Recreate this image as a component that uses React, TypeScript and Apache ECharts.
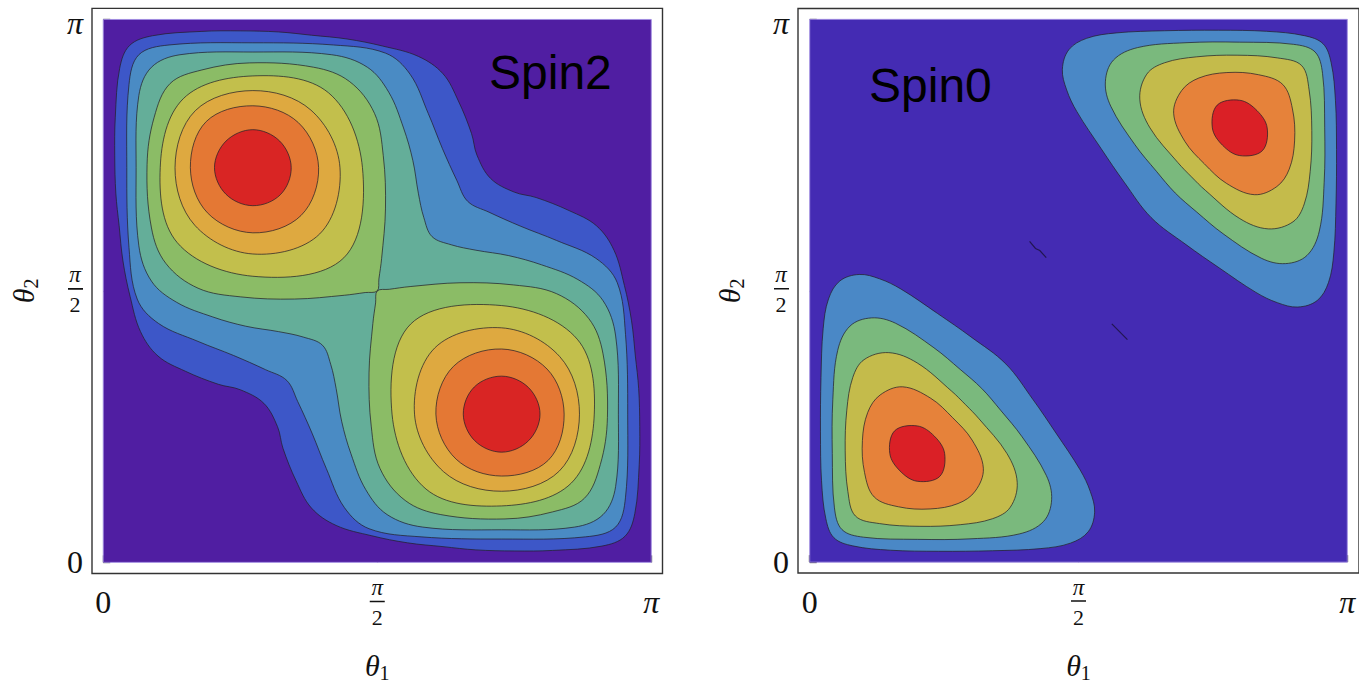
import React, { useEffect, useRef } from "react";
import * as echarts from "echarts";

type Pt = [number, number];

const SERIF = "'Liberation Serif', 'DejaVu Serif', serif";
const SANS = "'Liberation Sans', Arial, 'DejaVu Sans', sans-serif";

// axis ticks, in units of π
const tickValues = [0, 0.5, 1];

// colours
const spin2Colors = ["#501EA2", "#3D57C8", "#4A8BC4", "#64AE99", "#8BBC66", "#C2BF4C", "#DEA940", "#E47834", "#D92524"];
const spin0Colors = ["#442BB3", "#4A88C6", "#7AB97D", "#C4BB4B", "#E6823A", "#DA2026"];

// ---------- Spin2 contours (θ1/π, θ2/π) ----------
const spin2L1: Pt[] = [[0.048,0.952],[0.09,0.97],[0.18,0.978],[0.25,0.979],[0.32,0.977],[0.38,0.971],[0.445,0.964],[0.51,0.951],[0.575,0.932],[0.62,0.9],[0.648,0.85],[0.672,0.79],[0.682,0.75],[0.707,0.707],[0.75,0.682],[0.79,0.672],[0.85,0.648],[0.9,0.62],[0.932,0.575],[0.951,0.51],[0.964,0.445],[0.971,0.38],[0.977,0.32],[0.979,0.25],[0.978,0.18],[0.97,0.09],[0.952,0.048],[0.91,0.03],[0.82,0.022],[0.75,0.021],[0.68,0.023],[0.62,0.029],[0.555,0.036],[0.49,0.049],[0.425,0.068],[0.38,0.1],[0.352,0.15],[0.328,0.21],[0.318,0.25],[0.293,0.293],[0.25,0.318],[0.21,0.328],[0.15,0.352],[0.1,0.38],[0.068,0.425],[0.049,0.49],[0.036,0.555],[0.029,0.62],[0.023,0.68],[0.021,0.75],[0.022,0.82],[0.03,0.91]];
const spin2L2: Pt[] = [[0.065,0.935],[0.12,0.953],[0.273,0.957],[0.42,0.953],[0.515,0.938],[0.56,0.899],[0.593,0.827],[0.619,0.762],[0.645,0.704],[0.665,0.665],[0.704,0.645],[0.762,0.619],[0.827,0.593],[0.899,0.56],[0.938,0.515],[0.953,0.42],[0.957,0.273],[0.953,0.12],[0.935,0.065],[0.88,0.047],[0.727,0.043],[0.58,0.047],[0.485,0.062],[0.44,0.101],[0.407,0.173],[0.381,0.238],[0.355,0.296],[0.335,0.335],[0.296,0.355],[0.238,0.381],[0.173,0.407],[0.101,0.44],[0.062,0.485],[0.047,0.58],[0.043,0.727],[0.047,0.88]];
const spin2L3: Pt[] = [[0.088,0.912],[0.14,0.935],[0.273,0.94],[0.417,0.935],[0.482,0.912],[0.521,0.866],[0.548,0.8],[0.565,0.74],[0.575,0.68],[0.585,0.635],[0.6,0.6],[0.635,0.585],[0.68,0.575],[0.74,0.565],[0.8,0.548],[0.866,0.521],[0.912,0.482],[0.935,0.417],[0.94,0.273],[0.935,0.14],[0.912,0.088],[0.86,0.065],[0.727,0.06],[0.583,0.065],[0.518,0.088],[0.479,0.134],[0.452,0.2],[0.435,0.26],[0.425,0.32],[0.415,0.365],[0.4,0.4],[0.365,0.415],[0.32,0.425],[0.26,0.435],[0.2,0.452],[0.134,0.479],[0.088,0.518],[0.065,0.583],[0.06,0.727],[0.065,0.86]];
const spin2L4a: Pt[] = [[0.5,0.5],[0.503,0.522],[0.508,0.56],[0.515,0.651],[0.511,0.749],[0.495,0.827],[0.449,0.886],[0.384,0.912],[0.267,0.92],[0.18,0.907],[0.122,0.882],[0.093,0.82],[0.08,0.733],[0.088,0.616],[0.114,0.551],[0.173,0.505],[0.251,0.489],[0.349,0.485],[0.44,0.492],[0.478,0.497]];
const spin2L4b: Pt[] = [[0.5,0.5],[0.497,0.478],[0.492,0.44],[0.485,0.349],[0.489,0.251],[0.505,0.173],[0.551,0.114],[0.616,0.088],[0.733,0.08],[0.82,0.093],[0.878,0.118],[0.907,0.18],[0.92,0.267],[0.912,0.384],[0.886,0.449],[0.827,0.495],[0.749,0.511],[0.651,0.515],[0.56,0.508],[0.522,0.503]];
const spin2L5a: Pt[] = [[0.473,0.727],[0.411,0.865],[0.273,0.896],[0.146,0.854],[0.104,0.727],[0.135,0.589],[0.273,0.527],[0.439,0.561]];
const spin2L5b: Pt[] = [[0.527,0.273],[0.589,0.135],[0.727,0.104],[0.854,0.146],[0.896,0.273],[0.865,0.411],[0.727,0.473],[0.561,0.439]];
const spin2L6a: Pt[] = [[0.432,0.727],[0.379,0.833],[0.273,0.869],[0.168,0.832],[0.131,0.727],[0.167,0.621],[0.273,0.568],[0.395,0.605]];
const spin2L6b: Pt[] = [[0.568,0.273],[0.621,0.167],[0.727,0.131],[0.832,0.168],[0.869,0.273],[0.833,0.379],[0.727,0.432],[0.605,0.395]];
const spin2L7a: Pt[] = [[0.393,0.727],[0.356,0.81],[0.273,0.841],[0.188,0.812],[0.159,0.727],[0.19,0.644],[0.273,0.607],[0.361,0.639]];
const spin2L7b: Pt[] = [[0.607,0.273],[0.644,0.19],[0.727,0.159],[0.812,0.188],[0.841,0.273],[0.81,0.356],[0.727,0.393],[0.639,0.361]];
const spin2L8a: Pt[] = [[0.343,0.727],[0.322,0.776],[0.273,0.797],[0.224,0.776],[0.203,0.727],[0.224,0.678],[0.273,0.657],[0.323,0.677]];
const spin2L8b: Pt[] = [[0.657,0.273],[0.678,0.224],[0.727,0.203],[0.776,0.224],[0.797,0.273],[0.776,0.322],[0.727,0.343],[0.677,0.323]];

// ---------- Spin0 contours ----------
const spin0L1a: Pt[] = [[0.045,0.045],[0.03,0.08],[0.022,0.15],[0.02,0.24],[0.021,0.34],[0.025,0.43],[0.035,0.485],[0.056,0.518],[0.092,0.53],[0.13,0.522],[0.17,0.503],[0.238,0.458],[0.3,0.415],[0.365,0.365],[0.415,0.3],[0.458,0.238],[0.503,0.17],[0.522,0.13],[0.53,0.092],[0.518,0.056],[0.485,0.035],[0.43,0.025],[0.34,0.021],[0.24,0.02],[0.15,0.022],[0.08,0.03]];
const spin0L1b: Pt[] = [[0.955,0.955],[0.97,0.92],[0.978,0.85],[0.98,0.76],[0.979,0.66],[0.975,0.57],[0.965,0.515],[0.944,0.482],[0.908,0.47],[0.87,0.478],[0.83,0.497],[0.762,0.542],[0.7,0.585],[0.635,0.635],[0.585,0.7],[0.542,0.762],[0.497,0.83],[0.478,0.87],[0.47,0.908],[0.482,0.944],[0.515,0.965],[0.57,0.975],[0.66,0.979],[0.76,0.98],[0.85,0.978],[0.92,0.97]];
const spin0L2a: Pt[] = [[0.06,0.06],[0.046,0.1],[0.042,0.2],[0.043,0.3],[0.052,0.39],[0.075,0.435],[0.115,0.45],[0.16,0.44],[0.231,0.395],[0.28,0.355],[0.32,0.32],[0.355,0.28],[0.395,0.231],[0.44,0.16],[0.45,0.115],[0.435,0.075],[0.39,0.052],[0.3,0.043],[0.2,0.042],[0.1,0.046]];
const spin0L2b: Pt[] = [[0.94,0.94],[0.954,0.9],[0.958,0.8],[0.957,0.7],[0.948,0.61],[0.925,0.565],[0.885,0.55],[0.84,0.56],[0.769,0.605],[0.72,0.645],[0.68,0.68],[0.645,0.72],[0.605,0.769],[0.56,0.84],[0.55,0.885],[0.565,0.925],[0.61,0.948],[0.7,0.957],[0.8,0.958],[0.9,0.954]];
const spin0L3a: Pt[] = [[0.085,0.085],[0.071,0.13],[0.066,0.205],[0.069,0.28],[0.08,0.34],[0.101,0.373],[0.147,0.386],[0.2,0.367],[0.264,0.315],[0.29,0.29],[0.315,0.264],[0.367,0.2],[0.386,0.147],[0.373,0.101],[0.34,0.08],[0.28,0.069],[0.205,0.066],[0.13,0.071]];
const spin0L3b: Pt[] = [[0.915,0.915],[0.929,0.87],[0.934,0.795],[0.931,0.72],[0.92,0.66],[0.899,0.627],[0.853,0.614],[0.8,0.633],[0.736,0.685],[0.71,0.71],[0.685,0.736],[0.633,0.8],[0.614,0.853],[0.627,0.899],[0.66,0.92],[0.72,0.931],[0.795,0.934],[0.87,0.929]];
const spin0L4a: Pt[] = [[0.12,0.12],[0.102,0.165],[0.098,0.224],[0.108,0.276],[0.131,0.308],[0.173,0.323],[0.225,0.302],[0.266,0.266],[0.302,0.225],[0.323,0.173],[0.308,0.131],[0.276,0.108],[0.224,0.098],[0.165,0.102]];
const spin0L4b: Pt[] = [[0.88,0.88],[0.898,0.835],[0.902,0.776],[0.892,0.724],[0.869,0.692],[0.827,0.677],[0.775,0.698],[0.734,0.734],[0.698,0.775],[0.677,0.827],[0.692,0.869],[0.724,0.892],[0.776,0.902],[0.835,0.898]];
const spin0L5a: Pt[] = [[0.158,0.242],[0.2,0.251],[0.232,0.232],[0.251,0.2],[0.242,0.158],[0.2,0.149],[0.168,0.168],[0.149,0.2]];
const spin0L5b: Pt[] = [[0.842,0.758],[0.8,0.749],[0.768,0.768],[0.749,0.8],[0.758,0.842],[0.8,0.851],[0.832,0.832],[0.851,0.8]];
const spin0Marks: Pt[][] = [
  [[0.409,0.591],[0.42,0.578],[0.428,0.574],[0.44,0.561]],
  [[0.562,0.439],[0.591,0.41]],
];

const spin2Levels: [number, Pt[]][] = [
  [1, spin2L1], [2, spin2L2], [3, spin2L3], [4, spin2L4a], [4, spin2L4b],
  [5, spin2L5a], [5, spin2L5b], [6, spin2L6a], [6, spin2L6b],
  [7, spin2L7a], [7, spin2L7b], [8, spin2L8a], [8, spin2L8b],
];
const spin0Levels: [number, Pt[]][] = [
  [1, spin0L1a], [1, spin0L1b], [2, spin0L2a], [2, spin0L2b], [3, spin0L3a], [3, spin0L3b],
  [4, spin0L4a], [4, spin0L4b], [5, spin0L5a], [5, spin0L5b],
];

const unitRect: Pt[] = [[0, 0], [1, 0], [1, 1], [0, 1]];
const LINE = "rgba(35,30,40,0.72)";
const EDGE = "rgba(160,140,225,0.9)";

interface Item { pts: Pt[]; fill: string; stroke: string; smooth: number; line?: boolean }

function buildItems(colors: string[], levels: [number, Pt[]][], marks: Pt[][]): Item[] {
  const items: Item[] = [{ pts: unitRect, fill: colors[0], stroke: "none", smooth: 0 }];
  levels.forEach(([lv, pts]) => items.push({ pts, fill: colors[lv], stroke: LINE, smooth: 0.36 }));
  marks.forEach((pts) => items.push({ pts, fill: "none", stroke: "rgba(30,20,70,0.9)", smooth: 0, line: true }));
  items.push({ pts: unitRect, fill: "none", stroke: EDGE, smooth: 0 });
  return items;
}

function contourSeries(idx: number, items: Item[]) {
  return {
    type: "custom",
    coordinateSystem: "cartesian2d",
    xAxisIndex: idx,
    yAxisIndex: idx,
    silent: true,
    data: items.map((_, i) => [0.5, 0.5, i]),
    renderItem: (params: any, api: any) => {
      const it = items[params.dataIndex];
      const points = it.pts.map((p) => api.coord(p));
      if (it.line) {
        return { type: "polyline", z2: params.dataIndex, shape: { points }, style: { stroke: it.stroke, lineWidth: 1.2, fill: "none" } };
      }
      return {
        type: "polygon",
        z2: params.dataIndex,
        shape: { points, smooth: it.smooth },
        style: { fill: it.fill, stroke: it.stroke, lineWidth: 1 },
      };
    },
  };
}

const labelFmt = (v: number) => {
  if (Math.abs(v) < 1e-6) return "{n|0}";
  if (Math.abs(v - 1) < 1e-6) return "{p|π}";
  return "{fp|π}\n{bar|}\n{fd|2}";
};
function labelRich(isX: boolean) {
  return {
    n: { fontFamily: SERIF, fontSize: 32, lineHeight: isX ? 51 : 32, color: "#111" },
    p: isX
      ? { fontFamily: SERIF, fontStyle: "italic", fontSize: 32, lineHeight: 51, color: "#111" }
      : { fontFamily: SERIF, fontStyle: "italic", fontSize: 32, lineHeight: 30, padding: [7, 0, 0, 0], color: "#111" },
    fp: { fontFamily: SERIF, fontStyle: "italic", fontSize: 23, lineHeight: 22, width: 16, align: "center", color: "#111" },
    bar: { width: 15, height: 0, lineHeight: 6, borderColor: "#111", borderWidth: 1.6 },
    fd: { fontFamily: SERIF, fontSize: 22, lineHeight: 26, width: 16, align: "center", color: "#111" },
  };
}
const nameRich = {
  t: { fontFamily: SERIF, fontStyle: "italic", fontSize: 30, lineHeight: 36, color: "#111" },
  s: { fontFamily: SERIF, fontSize: 20, lineHeight: 16, verticalAlign: "bottom", color: "#111" },
};

function axis(gridIndex: number, pad: number, isX: boolean, nameGap: number) {
  return {
    type: "value",
    gridIndex,
    min: -pad,
    max: 1 + pad,
    axisLine: { show: false },
    splitLine: { show: false },
    axisTick: { show: true, inside: true, length: 7, customValues: tickValues, lineStyle: { color: "#333", width: 1.3 } },
    axisLabel: { show: true, customValues: tickValues, formatter: labelFmt, rich: labelRich(isX), margin: isX ? 3 : 9 },
    name: isX ? "{t|θ}{s|1}" : "{t|θ}{s|2}",
    nameLocation: "middle",
    nameGap,
    nameTextStyle: { rich: nameRich },
  };
}

export default function App() {
  const ref = useRef<HTMLDivElement>(null);
  useEffect(() => {
    if (!ref.current) return;
    const chart = echarts.init(ref.current, undefined, { renderer: "svg" });
    const spin2Items = buildItems(spin2Colors, spin2Levels, []);
    const spin0Items = buildItems(spin0Colors, spin0Levels, spin0Marks);
    const gridStyle = { show: true, borderColor: "#333", borderWidth: 1.4, backgroundColor: "transparent" };
    chart.setOption({
      animation: false,
      grid: [
        { ...gridStyle, left: 92, top: 5, width: 570.5, height: 570.5 },
        { ...gridStyle, left: 798, top: 8, width: 574, height: 572 },
      ],
      xAxis: [axis(0, 0.0205, true, 73.5), axis(1, 0.0218, true, 74)],
      yAxis: [axis(0, 0.0205, false, 51), axis(1, 0.02, false, 51)],
      series: [contourSeries(0, spin2Items), contourSeries(1, spin0Items)],
      graphic: [
        { type: "text", x: 489, y: 72, z: 100, style: { text: "Spin2", font: `48px ${SANS}`, fill: "#000", verticalAlign: "middle" } },
        { type: "text", x: 869, y: 85, z: 100, style: { text: "Spin0", font: `48px ${SANS}`, fill: "#000", verticalAlign: "middle" } },
      ],
    });
    return () => chart.dispose();
  }, []);
  return <div ref={ref} style={{ position: "absolute", left: 0, top: 0, width: 1359, height: 688 }} />;
}
